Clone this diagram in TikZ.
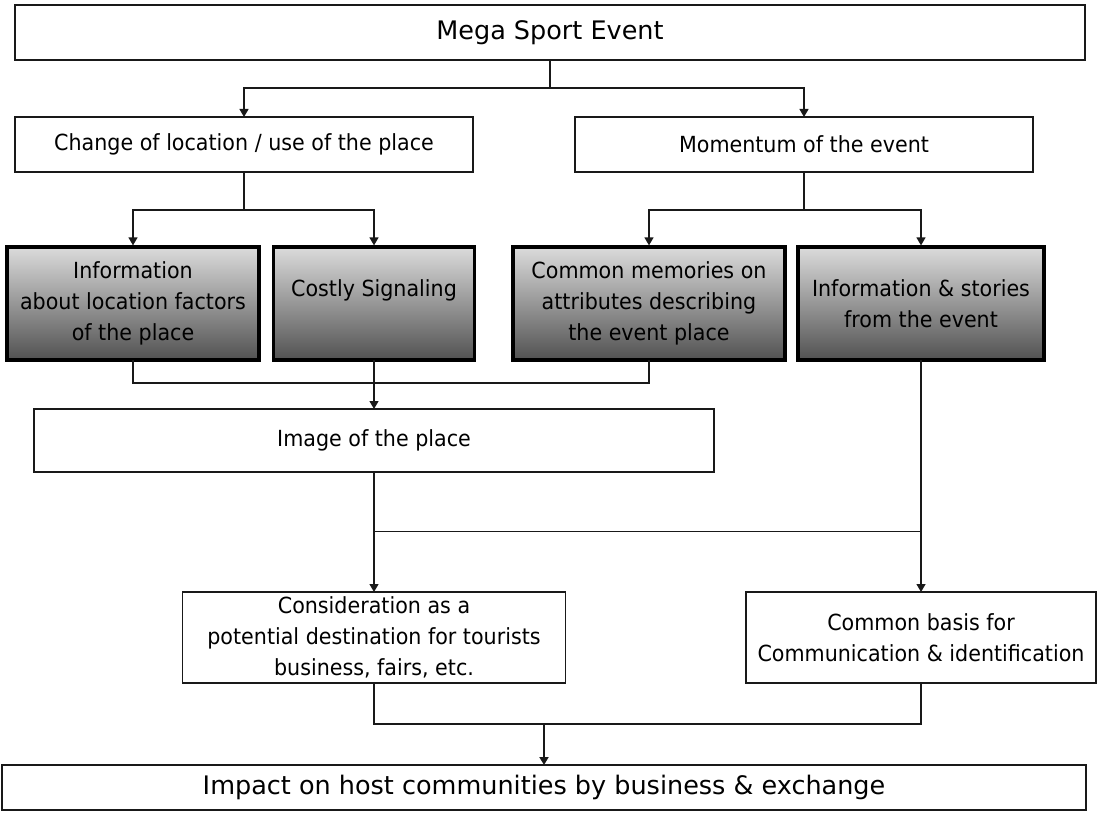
\documentclass[tikz,border=0pt]{standalone}
\usepackage{fontspec}
\setmainfont{DejaVu Sans}
\newfontfamily\bodyfont[FakeStretch=0.93]{DejaVu Sans}
\usetikzlibrary{arrows.meta}
\begin{document}
\begin{tikzpicture}[x=1pt,y=-1pt,
  box/.style={draw=black!90,line width=1.3pt,fill=white,inner sep=0pt,outer sep=0pt,align=center,font=\bodyfont\fontsize{22.2}{31}\selectfont},
  gbox/.style={draw=black,line width=3.2pt,inner sep=0pt,outer sep=0pt,align=center,top color=black!14,middle color=black!30,bottom color=black!68,font=\bodyfont\fontsize{22.2}{31}\selectfont,minimum height=113pt},
  big/.style={font=\fontsize{25.5}{30}\selectfont},
  conn/.style={line width=1.3pt,draw=black!90},
  arr/.style={conn,-{Triangle[width=9pt,length=8pt]}},
  garr/.style={arr,shorten >=1.6pt}
]
\useasboundingbox (0,0) rectangle (1097,813);
% boxes
\node[box,big,minimum width=1070pt,minimum height=55pt] (top) at (550,32.5) {Mega Sport Event};
\node[box,minimum width=458pt,minimum height=55pt] (chg) at (244,144.5) {Change of location / use of the place};
\node[box,minimum width=458pt,minimum height=55pt] (mom) at (804,144.5) {Momentum of the event};
\node[gbox,minimum width=252pt] (A) at (133,303.5) {Information\\about location factors\\of the place};
\node[gbox,minimum width=201pt] (B) at (374,303.5) {Costly Signaling\\\mbox{}};
\node[gbox,minimum width=272pt] (C) at (649,303.5) {Common memories on\\attributes describing\\the event place};
\node[gbox,minimum width=246pt] (D) at (921,303.5) {Information \& stories\\from the event};
\node[box,minimum width=680pt,minimum height=63pt] (img) at (374,440.5) {Image of the place};
\node[box,minimum width=383pt,minimum height=91pt] (cons) at (374,637.5) {Consideration as a\\potential destination for tourists\\business, fairs, etc.};
\node[box,minimum width=350pt,minimum height=91pt] (comm) at (921,637.5) {Common basis for\\Communication \& identification};
\node[box,big,minimum width=1084pt,minimum height=45pt] (imp) at (544,787.5) {Impact on host communities by business \& exchange};
% junctions
\coordinate (j1) at (550,88);
\coordinate (j2) at (244,210);
\coordinate (j3) at (804,210);
\coordinate (j4) at (374,383);
\coordinate (j5) at (374,531.7);
\coordinate (j6) at (544,724);
% connectors
\draw[conn] (top.south) -- (j1);
\draw[arr] (j1) -| (chg.north);
\draw[arr] (j1) -| (mom.north);
\draw[conn] (chg.south) -- (j2);
\draw[garr] (j2) -| (A.north);
\draw[garr] (j2) -| (B.north);
\draw[conn] (mom.south) -- (j3);
\draw[garr] (j3) -| (C.north);
\draw[garr] (j3) -| (D.north);
\draw[conn] (A.south) |- (j4) -| (C.south);
\draw[arr] (B.south) -- (img.north);
\draw[arr] (img.south) -- (cons.north);
\draw[conn] (j5) -- (j5 -| D.south);
\draw[arr] (D.south) -- (comm.north);
\draw[conn] (cons.south) |- (j6) -| (comm.south);
\draw[arr,line width=1.8pt] (j6) -- (imp.north);
\end{tikzpicture}
\end{document}
